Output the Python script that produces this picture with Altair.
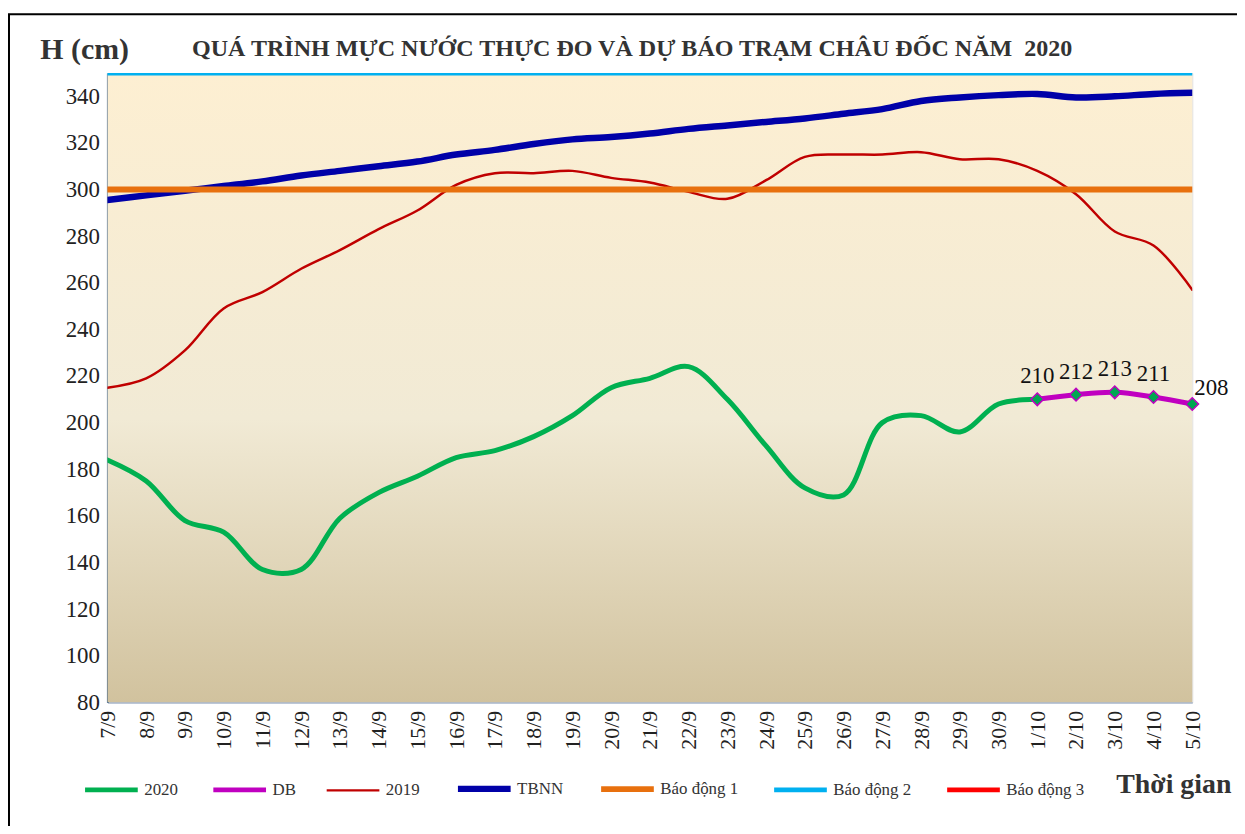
import altair as alt
import pandas as pd

# ---------------- data ----------------
dates = ["7/9", "8/9", "9/9", "10/9", "11/9", "12/9", "13/9", "14/9", "15/9", "16/9",
         "17/9", "18/9", "19/9", "20/9", "21/9", "22/9", "23/9", "24/9", "25/9", "26/9",
         "27/9", "28/9", "29/9", "30/9", "1/10", "2/10", "3/10", "4/10", "5/10"]

h2020 = [184, 175, 158, 153, 137, 137, 159, 170, 177, 185,
         188, 194, 203, 215, 219, 224, 210, 190, 172, 169,
         200, 203, 196, 208, 210]
db_dates = ["1/10", "2/10", "3/10", "4/10", "5/10"]
db_vals = [210, 212, 213, 211, 208]
h2019 = [215, 219, 231, 249, 256, 266, 274, 283, 291, 302,
         307, 307, 308, 305, 303, 299, 296, 304, 314, 315,
         315, 316, 313, 313, 308, 298, 282, 276, 257]
tbnn = [295.5, 297.5, 299.5, 301.5, 303.5, 306, 308, 310, 312, 315,
        317, 319.5, 321.5, 322.5, 324, 326, 327.5, 329, 330.5, 332.5,
        334.5, 338, 339.5, 340.5, 341, 339.5, 340, 341, 341.5]
bao_dong_1 = 300
bao_dong_2 = 350
bao_dong_3 = 400

series_names = ["2020", "DB", "2019", "TBNN", "Báo động 1", "Báo động 2", "Báo động 3"]
series_colors = ["#00B050", "#C000C0", "#C00000", "#0000A8", "#E8700E", "#00B0F0", "#FF0000"]
series_widths = [5, 5, 2.5, 6.5, 6, 5, 5]

yticks = list(range(80, 341, 20))

title_text = "QUÁ TRÌNH MỰC NƯỚC THỰC ĐO VÀ DỰ BÁO TRẠM CHÂU ĐỐC NĂM\u00a0\u00a02020"

# ---------------- table ----------------
rows = []
for d, v in zip(dates, h2020):
    rows.append({"date": d, "series": "2020", "value": v})
for d, v in zip(db_dates, db_vals):
    rows.append({"date": d, "series": "DB", "value": v})
for d, v in zip(dates, h2019):
    rows.append({"date": d, "series": "2019", "value": v})
for d, v in zip(dates, tbnn):
    rows.append({"date": d, "series": "TBNN", "value": v})
for d in dates:
    rows.append({"date": d, "series": "Báo động 1", "value": bao_dong_1})
    rows.append({"date": d, "series": "Báo động 2", "value": bao_dong_2})
    rows.append({"date": d, "series": "Báo động 3", "value": bao_dong_3})
df = pd.DataFrame(rows)
db_df = pd.DataFrame({"date": db_dates, "value": db_vals})

W, H = 1091, 633
SERIF = "Liberation Serif"

x_enc = alt.X("date:N", sort=dates,
              scale=alt.Scale(type="point", padding=0),
              axis=alt.Axis(labelAngle=-90, labelAlign="right", labelBaseline="middle",
                            labelPadding=8, labelFont=SERIF, labelFontSize=22,
                            labelColor="#222222", ticks=False, grid=False,
                            domainColor="#AAB9CE", domainWidth=2,
                            title="Thời gian", titleFont=SERIF, titleFontSize=28,
                            titleFontWeight="bold", titleColor="#333333",
                            titleX=1014, titleY=83, titleAlign="left",
                            titleBaseline="middle", labelOverlap=False))
y_enc = alt.Y("value:Q",
              scale=alt.Scale(domain=[80, 350], nice=False, zero=False),
              axis=alt.Axis(values=yticks, labelFont=SERIF, labelFontSize=23,
                            labelColor="#222222", labelPadding=8, ticks=False, grid=False,
                            domainColor="#1F4A7C", domainWidth=2,
                            title="H (cm)", titleAngle=0, titleFont=SERIF,
                            titleFontSize=30, titleFontWeight="bold", titleColor="#333333",
                            titleX=-68, titleY=-24, titleAlign="left",
                            titleBaseline="middle"))

legend = alt.Legend(orient="none", legendX=-26, legendY=690, direction="horizontal",
                    columns=7, symbolType="stroke", symbolSize=2809, title=None,
                    labelFont=SERIF, labelFontSize=17, labelColor="#333333",
                    columnPadding=25, labelOffset=3)
color_enc = alt.Color("series:N", scale=alt.Scale(domain=series_names, range=series_colors),
                      legend=legend)
width_enc = alt.StrokeWidth("series:N",
                            scale=alt.Scale(type="ordinal", domain=series_names,
                                            range=series_widths),
                            legend=legend)

base = alt.Chart(df).encode(x=x_enc, y=y_enc, color=color_enc, strokeWidth=width_enc)


def line_layer(names):
    return base.transform_filter(
        alt.FieldOneOfPredicate(field="series", oneOf=names)
    ).mark_line(interpolate="catmull-rom", clip=True, strokeCap="round")


background = alt.Chart(pd.DataFrame({"k": [0]})).mark_rect(
    color=alt.LinearGradient(gradient="linear", x1=0, x2=0, y1=0, y2=1,
                             stops=[alt.GradientStop(color="#FDEFD2", offset=0),
                                    alt.GradientStop(color="#F1EAD5", offset=0.55),
                                    alt.GradientStop(color="#D1C29E", offset=1)])
).encode(x=alt.value(0), x2=alt.value(W), y=alt.value(0), y2=alt.value(H))

frame = alt.Chart(pd.DataFrame({"k": [0]})).mark_rect(
    fillOpacity=0, stroke="#000000", strokeWidth=2, clip=False
).encode(x=alt.value(-99), x2=alt.value(1142), y=alt.value(-59), y2=alt.value(769))

points = alt.Chart(db_df).mark_point(shape="diamond", filled=True, fill="#00A651",
                                     stroke="#C000C0", strokeWidth=1.5, size=160,
                                     opacity=1).encode(x=x_enc, y=y_enc)

labels_main = alt.Chart(db_df).transform_filter(
    alt.datum.date != db_dates[-1]
).mark_text(font=SERIF, fontSize=23, color="#111111", dy=-23, align="center").encode(
    x=x_enc, y=y_enc, text=alt.Text("value:Q"))
labels_last = alt.Chart(db_df).transform_filter(
    alt.datum.date == db_dates[-1]
).mark_text(font=SERIF, fontSize=23, color="#111111", dy=-16, dx=2, align="left").encode(
    x=x_enc, y=y_enc, text=alt.Text("value:Q"))

chart = alt.layer(
    background,
    line_layer(["TBNN"]),
    line_layer(["2019"]),
    line_layer(["Báo động 1", "Báo động 2", "Báo động 3"]),
    line_layer(["2020"]),
    line_layer(["DB"]),
    points,
    labels_main,
    labels_last,
    frame,
).properties(
    width=W, height=H,
    title=alt.TitleParams(title_text,
                          font=SERIF, fontSize=24.2, fontWeight="bold", color="#333333",
                          anchor="start", dx=185, dy=60, offset=12),
    padding={"left": 100, "top": 63, "right": 45, "bottom": 122},
    autosize=alt.AutoSizeParams(type="none"),
).configure_view(stroke="#8FA6C4", strokeWidth=1).configure(background="#FFFFFF")

chart.save("out.html", embed_options={"renderer": "svg", "actions": False})
